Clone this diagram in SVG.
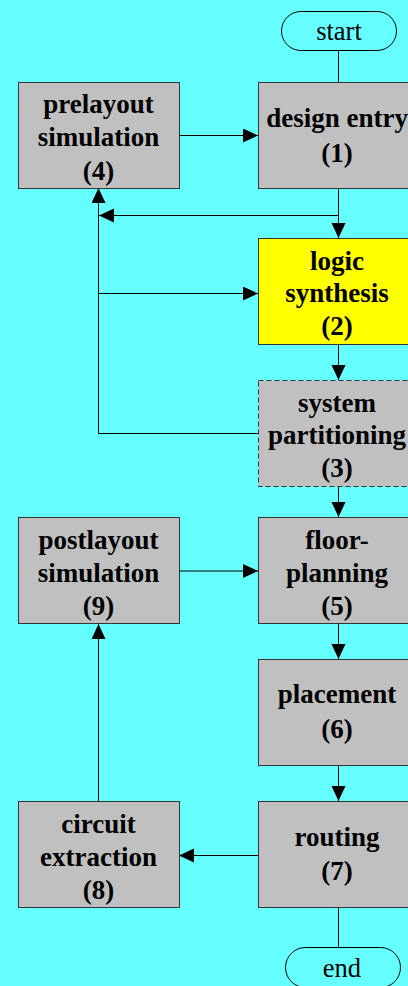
<svg xmlns="http://www.w3.org/2000/svg" width="408" height="986" viewBox="0 0 408 986">
<defs>
<style>
.box{fill:#c0c0c0;stroke:#333;stroke-width:1}
.yel{fill:#ffff00;stroke:#333;stroke-width:1}
.dash{fill:#c0c0c0;stroke:#333;stroke-width:1;stroke-dasharray:5 3}
.term{fill:#66ffff;stroke:#000;stroke-width:1}
.t{font-family:"Liberation Serif","Times New Roman",serif;font-weight:bold;font-size:27px;text-anchor:middle;fill:#000}
.r{font-family:"Liberation Serif","Times New Roman",serif;font-size:26.5px;text-anchor:middle;fill:#000}
.c{fill:none;stroke:#000;stroke-width:1}
</style>
<marker id="ah" markerUnits="userSpaceOnUse" markerWidth="16" markerHeight="16" refX="15" refY="7" orient="auto">
<path d="M0,0 L15,7 L0,14 z" fill="#000"/>
</marker>
</defs>
<rect width="408" height="986" fill="#66ffff"/>
<g id="connectors">
<path class="c" d="M338.5,50 V82"/>
<path class="c" d="M179,135.5 H258" marker-end="url(#ah)"/>
<path class="c" d="M338.5,188 V238" marker-end="url(#ah)"/>
<path class="c" d="M338.5,215.5 H99" marker-end="url(#ah)"/>
<path class="c" d="M258,433.5 H98.5 V188" marker-end="url(#ah)"/>
<path class="c" d="M98.5,293.5 H258" marker-end="url(#ah)"/>
<path class="c" d="M338.5,345 V380" marker-end="url(#ah)"/>
<path class="c" d="M338.5,487 V517" marker-end="url(#ah)"/>
<path class="c" d="M179,571 H258" marker-end="url(#ah)"/>
<path class="c" d="M338.5,624 V659" marker-end="url(#ah)"/>
<path class="c" d="M338.5,766 V801" marker-end="url(#ah)"/>
<path class="c" d="M258,855.5 H179" marker-end="url(#ah)"/>
<path class="c" d="M98.5,801 V624" marker-end="url(#ah)"/>
<path class="c" d="M338.5,908 V947"/>
</g>
<g id="start">
<rect class="term" x="281.5" y="11.5" width="115" height="39" rx="19.5"/>
<text class="r" x="339" y="40">start</text>
</g>
<g id="n4">
<rect class="box" x="18.5" y="82.5" width="161" height="106"/>
<text class="t" x="98.5" y="113">prelayout</text>
<text class="t" x="98.5" y="146">simulation</text>
<text class="t" x="98.5" y="180">(4)</text>
</g>
<g id="n1">
<rect class="box" x="258.5" y="82.5" width="161" height="106"/>
<text class="t" x="337" y="127">design entry</text>
<text class="t" x="337" y="162">(1)</text>
</g>
<g id="n2">
<rect class="yel" x="258.5" y="238.5" width="161" height="106"/>
<text class="t" x="337" y="270">logic</text>
<text class="t" x="337" y="302">synthesis</text>
<text class="t" x="337" y="335">(2)</text>
</g>
<g id="n3">
<rect class="dash" x="258.5" y="380.5" width="161" height="106"/>
<text class="t" x="337" y="412">system</text>
<text class="t" x="337" y="444">partitioning</text>
<text class="t" x="337" y="477">(3)</text>
</g>
<g id="n9">
<rect class="box" x="18.5" y="517.5" width="161" height="106"/>
<text class="t" x="98.5" y="549">postlayout</text>
<text class="t" x="98.5" y="582">simulation</text>
<text class="t" x="98.5" y="615">(9)</text>
</g>
<g id="n5">
<rect class="box" x="258.5" y="517.5" width="161" height="106"/>
<text class="t" x="337" y="549">floor-</text>
<text class="t" x="337" y="582">planning</text>
<text class="t" x="337" y="615">(5)</text>
</g>
<g id="n6">
<rect class="box" x="258.5" y="659.5" width="161" height="106"/>
<text class="t" x="337" y="703">placement</text>
<text class="t" x="337" y="738">(6)</text>
</g>
<g id="n7">
<rect class="box" x="258.5" y="801.5" width="161" height="106"/>
<text class="t" x="337" y="846">routing</text>
<text class="t" x="337" y="880">(7)</text>
</g>
<g id="n8">
<rect class="box" x="18.5" y="801.5" width="161" height="106"/>
<text class="t" x="98.5" y="833">circuit</text>
<text class="t" x="98.5" y="866">extraction</text>
<text class="t" x="98.5" y="899">(8)</text>
</g>
<g id="end">
<rect class="term" x="285.5" y="947.5" width="115" height="40" rx="20"/>
<text class="r" x="342" y="977">end</text>
</g>
</svg>
